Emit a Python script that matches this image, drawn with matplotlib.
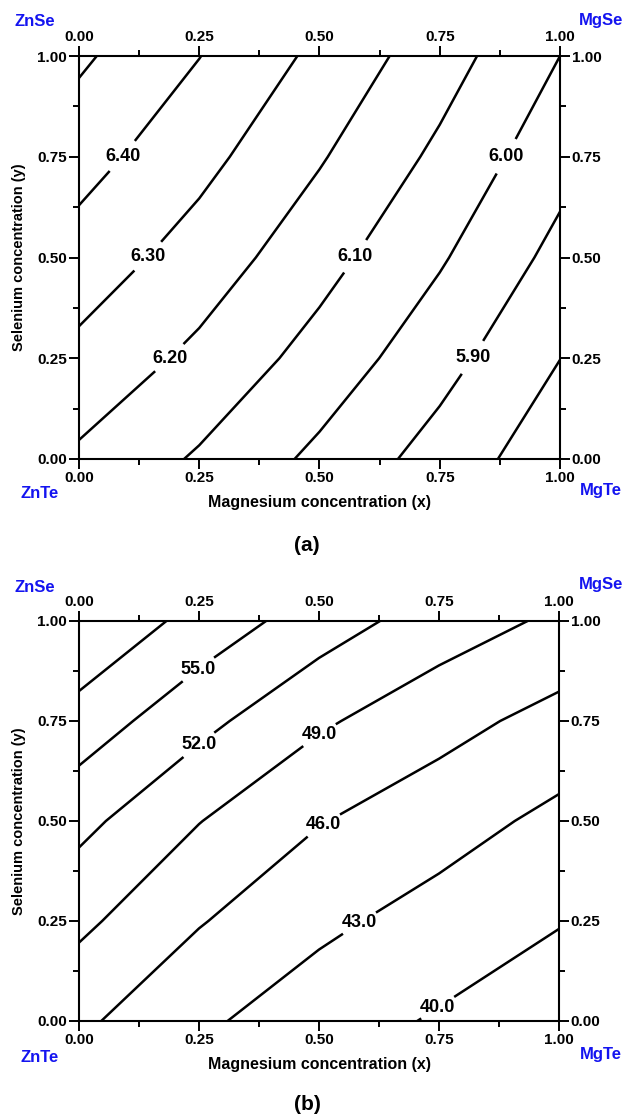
import numpy as np
import matplotlib
matplotlib.use("Agg")
import matplotlib.pyplot as plt
from matplotlib.ticker import MultipleLocator

plt.rcParams['font.family'] = ['Liberation Sans', 'DejaVu Sans']
plt.rcParams['font.weight'] = 'bold'

# Composition grid: Mg fraction (x) and Se fraction (y)
mg_x = [0.0, 0.25, 0.5, 0.75, 1.0]
se_y = [0.0, 0.25, 0.5, 0.75, 1.0]

# (a) lattice constant (Angstrom), rows follow se_y, columns follow mg_x
lattice = [
    [6.183, 6.088, 5.977, 5.859, 5.737],
    [6.273, 6.176, 6.062, 5.937, 5.801],
    [6.358, 6.256, 6.137, 6.011, 5.870],
    [6.439, 6.331, 6.209, 6.079, 5.936],
    [6.517, 6.402, 6.277, 6.145, 6.000],
]
lattice_levels = [5.80, 5.90, 6.00, 6.10, 6.20, 6.30, 6.40, 6.50]
lattice_labels = {6.40: (0.092, 0.75), 6.30: (0.146, 0.50), 6.20: (0.189, 0.25),
                  6.10: (0.578, 0.50), 6.00: (0.890, 0.75), 5.90: (0.821, 0.25)}

# (b) second property map, same grid
prop_b = [
    [46.57, 43.50, 41.40, 39.69, 38.25],
    [49.67, 46.20, 43.64, 41.87, 40.15],
    [52.84, 49.09, 46.15, 44.25, 42.27],
    [56.74, 52.88, 49.44, 47.06, 44.98],
    [60.95, 56.90, 53.50, 50.55, 48.45],
]
prop_b_levels = [40.0, 43.0, 46.0, 49.0, 52.0, 55.0, 58.0]
prop_b_labels = {55.0: (0.248, 0.88), 52.0: (0.25, 0.69), 49.0: (0.498, 0.72),
                 46.0: (0.506, 0.496), 43.0: (0.583, 0.247), 40.0: (0.748, 0.032)}

corner_names = ["ZnSe", "MgSe", "ZnTe", "MgTe"]
tick_vals = [0.0, 0.25, 0.5, 0.75, 1.0]

W, H = 625, 1117
fig = plt.figure(figsize=(W / 100, H / 100), dpi=100)


def px_axes(left, top, right, bottom):
    return fig.add_axes([left / W, 1 - bottom / H, (right - left) / W, (bottom - top) / H])


def draw_panel(ax, Z, levels, label_pos, fmt):
    X, Y = np.meshgrid(mg_x, se_y)
    Z = np.array(Z)
    for lv in levels:
        cs = ax.contour(X, Y, Z, levels=[lv], colors='black', linewidths=1.8)
        if lv in label_pos:
            texts = ax.clabel(cs, fmt=fmt, fontsize=13, inline=True,
                              inline_spacing=2, manual=[label_pos[lv]])
            for t in texts:
                t.set_rotation(0)
                t.set_fontweight('bold')
    ax.set_xlim(0, 1)
    ax.set_ylim(0, 1)
    ax.set_xticks(tick_vals)
    ax.set_yticks(tick_vals)
    ax.xaxis.set_minor_locator(MultipleLocator(0.125))
    ax.yaxis.set_minor_locator(MultipleLocator(0.125))
    ax.xaxis.set_major_formatter(lambda v, p: f"{v:.2f}")
    ax.yaxis.set_major_formatter(lambda v, p: f"{v:.2f}")
    ax.tick_params(which='both', direction='out', top=True, right=True,
                   labeltop=True, labelright=True, width=1.4)
    ax.tick_params(which='major', length=7, labelsize=11, pad=1.5)
    ax.tick_params(which='minor', length=4)
    for lbl in ax.get_xticklabels() + ax.get_yticklabels():
        lbl.set_fontweight('bold')
    for sp in ax.spines.values():
        sp.set_linewidth(1.5)
    ax.set_xlabel("Magnesium concentration (x)", fontsize=11.5, fontweight='bold', labelpad=7)
    ax.set_ylabel("Selenium concentration (y)", fontsize=10.5, fontweight='bold', labelpad=8)


ax_a = px_axes(79, 56, 560, 459)
draw_panel(ax_a, lattice, lattice_levels, lattice_labels, '%.2f')
ax_b = px_axes(79, 621, 559, 1021)
draw_panel(ax_b, prop_b, prop_b_levels, prop_b_labels, '%.1f')


def ftext(x, y, s, **kw):
    fig.text(x / W, 1 - y / H, s, ha='center', va='center', **kw)


blue = '#1414f0'
for dy in (0, 565):
    ftext(35, 22 + dy, corner_names[0], color=blue, fontsize=12, fontweight='bold')
    ftext(601, 20 + dy, corner_names[1], color=blue, fontsize=12, fontweight='bold')
    ftext(40, 493 + dy, corner_names[2], color=blue, fontsize=12, fontweight='bold')
    ftext(601, 490 + dy, corner_names[3], color=blue, fontsize=12, fontweight='bold')

ftext(307, 545, "(a)", fontsize=15, fontweight='bold')
ftext(307, 1105, "(b)", fontsize=15, fontweight='bold')

fig.savefig("out.png", dpi=100)
